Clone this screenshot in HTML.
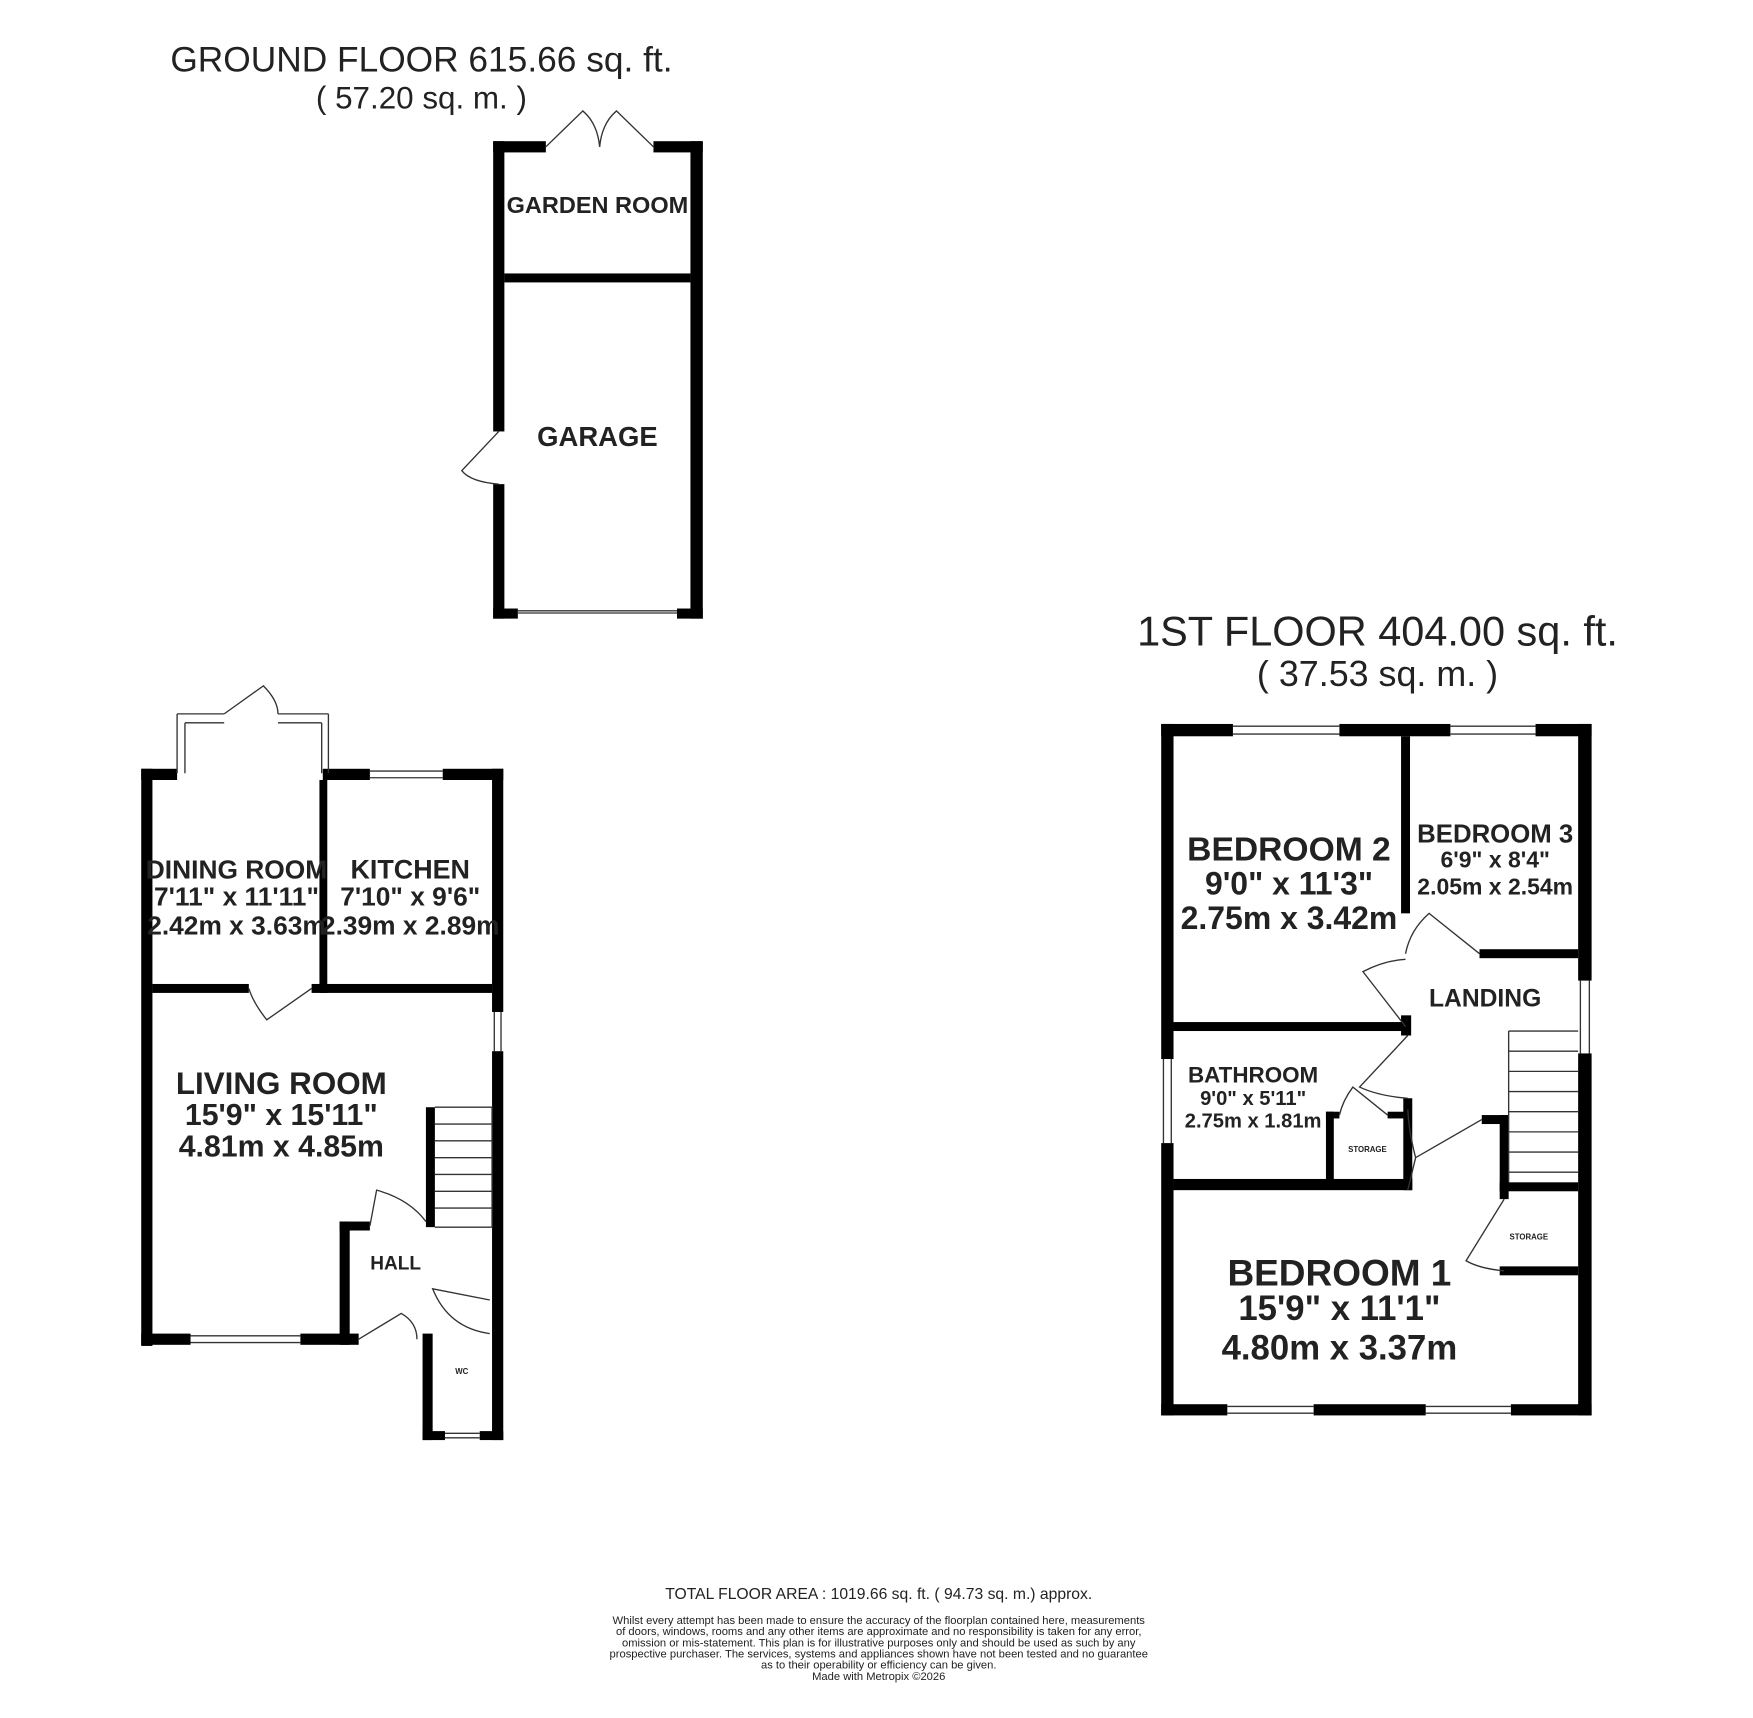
<!DOCTYPE html>
<html><head><meta charset="utf-8"><style>
html,body{margin:0;padding:0;background:#fff;}
svg{display:block;}
text{font-family:"Liberation Sans",sans-serif;fill:#222;}
.b{font-weight:bold;}
</style></head><body>
<svg width="1753" height="1718" viewBox="0 0 1564 1533" preserveAspectRatio="none" xmlns="http://www.w3.org/2000/svg">
<rect width="1564" height="1533" fill="#fff"/>
<g fill="#000">
<rect x="440" y="126" width="10" height="259"/>
<rect x="440" y="432" width="10" height="120"/>
<rect x="616" y="126" width="11" height="426"/>
<rect x="440" y="126" width="47" height="10"/>
<rect x="583" y="126" width="44" height="10"/>
<rect x="450" y="244" width="166" height="8"/>
<rect x="440" y="543" width="22" height="9"/>
<rect x="604" y="543" width="23" height="9"/>
<rect x="126" y="686" width="10" height="515"/>
<rect x="126" y="686" width="32" height="10"/>
<rect x="288" y="686" width="42" height="10"/>
<rect x="395" y="686" width="54" height="10"/>
<rect x="439" y="686" width="10" height="217"/>
<rect x="439" y="938" width="10" height="347"/>
<rect x="285" y="696" width="7" height="190"/>
<rect x="136" y="878" width="86" height="8"/>
<rect x="278" y="878" width="161" height="8"/>
<rect x="126" y="1190" width="44" height="10"/>
<rect x="268" y="1190" width="52" height="10"/>
<rect x="303" y="1090" width="9" height="110"/>
<rect x="303" y="1090" width="27" height="8"/>
<rect x="380" y="988" width="8" height="107"/>
<rect x="377" y="1190" width="9" height="95"/>
<rect x="377" y="1277" width="20" height="8"/>
<rect x="428" y="1277" width="21" height="8"/>
<rect x="1036" y="646" width="64" height="11"/>
<rect x="1195" y="646" width="99" height="11"/>
<rect x="1370" y="646" width="50" height="11"/>
<rect x="1036" y="646" width="11" height="299"/>
<rect x="1036" y="1020" width="11" height="243"/>
<rect x="1408" y="646" width="12" height="229"/>
<rect x="1408" y="940" width="12" height="323"/>
<rect x="1036" y="1253" width="59" height="10"/>
<rect x="1172" y="1253" width="100" height="10"/>
<rect x="1348" y="1253" width="72" height="10"/>
<rect x="1250" y="657" width="8" height="158"/>
<rect x="1320" y="847" width="88" height="8"/>
<rect x="1047" y="912" width="211" height="8"/>
<rect x="1250" y="906" width="9" height="18"/>
<rect x="1252" y="980" width="8" height="82"/>
<rect x="1047" y="1052" width="213" height="10"/>
<rect x="1183" y="992" width="7" height="68"/>
<rect x="1183" y="992" width="12" height="6"/>
<rect x="1238" y="992" width="16" height="6"/>
<rect x="1322" y="995" width="24" height="8"/>
<rect x="1338" y="995" width="8" height="75"/>
<rect x="1338" y="1055" width="70" height="8"/>
<rect x="1338" y="1130" width="70" height="8"/>
</g>
<g fill="none" stroke="#333" stroke-width="1.2">
<path d="M487 131 L520 99 Q533 110 535 131"/>
<path d="M583 131 L550 99 Q537 110 535 131"/>
<path d="M445 385 L412 420 Q420 430 445 432"/>
<line x1="462" y1="547" x2="604" y2="547"/>
<line x1="462" y1="545" x2="604" y2="545"/>
<path d="M158 637 L200 637 M248 637 L293 637 M158 637 L158 690 M293 637 L293 690 M165 645 L165 690 M287 645 L287 690 M165 645 L200 645 M248 645 L287 645 M200 637 L235 612 Q248 625 248 637"/>
<line x1="330" y1="688" x2="395" y2="688"/><line x1="330" y1="694" x2="395" y2="694"/>
<line x1="441" y1="903" x2="441" y2="938"/><line x1="447" y1="903" x2="447" y2="938"/>
<line x1="170" y1="1192" x2="268" y2="1192"/><line x1="170" y1="1198" x2="268" y2="1198"/>
<line x1="397" y1="1279" x2="428" y2="1279"/><line x1="397" y1="1283" x2="428" y2="1283"/>
<path d="M278 882 L238 910 Q226 895 222 882"/>
<path d="M330 1094 L336 1062 Q365 1070 380 1090"/>
<path d="M320 1195 L358 1172 Q372 1180 372 1195"/>
<path d="M437 1160 L386 1150 Q400 1185 437 1190"/>
<path d="M388 988 H439 V1095 H388"/>
<path d="M388 1003H439M388 1018H439M388 1033H439M388 1048H439M388 1063H439M388 1078H439"/>
<line x1="1100" y1="648" x2="1195" y2="648"/><line x1="1100" y1="655" x2="1195" y2="655"/>
<line x1="1294" y1="648" x2="1370" y2="648"/><line x1="1294" y1="655" x2="1370" y2="655"/>
<line x1="1038" y1="945" x2="1038" y2="1020"/><line x1="1045" y1="945" x2="1045" y2="1020"/>
<line x1="1410" y1="875" x2="1410" y2="940"/><line x1="1418" y1="875" x2="1418" y2="940"/>
<line x1="1095" y1="1255" x2="1172" y2="1255"/><line x1="1095" y1="1261" x2="1172" y2="1261"/>
<line x1="1272" y1="1255" x2="1348" y2="1255"/><line x1="1272" y1="1261" x2="1348" y2="1261"/>
<path d="M1320 851 L1275 815 Q1258 830 1254 851"/>
<path d="M1254 916 L1216 867 Q1235 857 1254 856"/>
<path d="M1256 924 L1213 970 Q1230 978 1256 980"/>
<path d="M1238 995 L1207 970 Q1198 982 1195 995"/>
<path d="M1256 1062 L1263 1033 M1322 999 L1263 1033 Q1257 1010 1256 990"/>
<path d="M1342 1070 L1308 1125 Q1320 1132 1342 1134"/>
<path d="M1346 920 H1408 M1346 920 V1055"/>
<path d="M1346 938H1408M1346 956H1408M1346 974H1408M1346 992H1408M1346 1010H1408M1346 1028H1408M1346 1046H1408"/>
</g>
<text x="376" y="64" font-size="31.5" text-anchor="middle">GROUND FLOOR 615.66 sq. ft.</text>
<text x="376" y="97" font-size="28" text-anchor="middle">( 57.20 sq. m. )</text>
<text x="1229" y="576" font-size="37" text-anchor="middle">1ST FLOOR 404.00 sq. ft.</text>
<text x="1229" y="612" font-size="32" text-anchor="middle">( 37.53 sq. m. )</text>
<text class="b" x="533" y="190" font-size="21" text-anchor="middle">GARDEN ROOM</text>
<text class="b" x="533" y="398" font-size="24.5" text-anchor="middle">GARAGE</text>
<g text-anchor="middle">
<text class="b" x="211" y="784" font-size="23.5">DINING ROOM</text>
<text class="b" x="211" y="808" font-size="23.5">7'11" x 11'11"</text>
<text class="b" x="211" y="834" font-size="23.5">2.42m x 3.63m</text>
<text class="b" x="366" y="784" font-size="24">KITCHEN</text>
<text class="b" x="366" y="808" font-size="23.5">7'10" x 9'6"</text>
<text class="b" x="366" y="834" font-size="23.5">2.39m x 2.89m</text>
<text class="b" x="251" y="976" font-size="28">LIVING ROOM</text>
<text class="b" x="251" y="1004" font-size="27">15'9" x 15'11"</text>
<text class="b" x="251" y="1032" font-size="27">4.81m x 4.85m</text>
</g>
<text class="b" x="353" y="1133" font-size="17" text-anchor="middle">HALL</text>
<text class="b" x="412" y="1226" font-size="7" text-anchor="middle">WC</text>
<text class="b" x="1150" y="768" font-size="30" text-anchor="middle">BEDROOM 2</text>
<text class="b" x="1150" y="798" font-size="28.5" text-anchor="middle">9'0" x 11'3"</text>
<text class="b" x="1150" y="829" font-size="28.5" text-anchor="middle">2.75m x 3.42m</text>
<text class="b" x="1334" y="752" font-size="23" text-anchor="middle">BEDROOM 3</text>
<text class="b" x="1334" y="774" font-size="20.5" text-anchor="middle">6'9" x 8'4"</text>
<text class="b" x="1334" y="798" font-size="20.5" text-anchor="middle">2.05m x 2.54m</text>
<text class="b" x="1325" y="898" font-size="22" text-anchor="middle">LANDING</text>
<text class="b" x="1118" y="966" font-size="20" text-anchor="middle">BATHROOM</text>
<text class="b" x="1118" y="986" font-size="18" text-anchor="middle">9'0" x 5'11"</text>
<text class="b" x="1118" y="1006" font-size="18" text-anchor="middle">2.75m x 1.81m</text>
<text class="b" x="1220" y="1028" font-size="7" text-anchor="middle">STORAGE</text>
<text class="b" x="1364" y="1106" font-size="7" text-anchor="middle">STORAGE</text>
<text class="b" x="1195" y="1147" font-size="33" text-anchor="middle">BEDROOM 1</text>
<text class="b" x="1195" y="1178" font-size="31" text-anchor="middle">15'9" x 11'1"</text>
<text class="b" x="1195" y="1213" font-size="31" text-anchor="middle">4.80m x 3.37m</text>
<text x="784" y="1427" font-size="14" text-anchor="middle">TOTAL FLOOR AREA : 1019.66 sq. ft. ( 94.73 sq. m.) approx.</text>
<g font-size="10" text-anchor="middle" fill="#555">
<text x="784" y="1449">Whilst every attempt has been made to ensure the accuracy of the floorplan contained here, measurements</text>
<text x="784" y="1459">of doors, windows, rooms and any other items are approximate and no responsibility is taken for any error,</text>
<text x="784" y="1469">omission or mis-statement. This plan is for illustrative purposes only and should be used as such by any</text>
<text x="784" y="1479">prospective purchaser. The services, systems and appliances shown have not been tested and no guarantee</text>
<text x="784" y="1489">as to their operability or efficiency can be given.</text>
<text x="784" y="1499">Made with Metropix ©2026</text>
</g>
</svg>
</body></html>
